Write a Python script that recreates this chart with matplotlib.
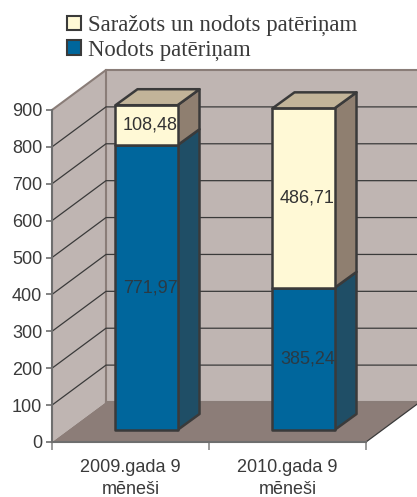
import matplotlib
matplotlib.use('Agg')
import matplotlib.pyplot as plt
from matplotlib.patches import Polygon, Patch

categories = ['2009.gada 9\nmēneši', '2010.gada 9\nmēneši']
nodots = [771.97, 385.24]
sarazots = [108.48, 486.71]
nodots_labels = ['771,97', '385,24']
sarazots_labels = ['108,48', '486,71']
legend_labels = ['Saražots un nodots patēriņam', 'Nodots patēriņam']
yticks = [0, 100, 200, 300, 400, 500, 600, 700, 800, 900]

W, H = 417, 497
LINE = '#3a3a3a'
WALL = '#bfb5b2'
FLOOR = '#8c7d78'
EDGE = '#8a7d78'

fig = plt.figure(figsize=(W / 100, H / 100), dpi=100)
ax = fig.add_axes([52 / W, (H - 442) / H, 314 / W, 332 / H])
ax.set_xlim(0, 2)
ax.set_ylim(0, 900)
ax.patch.set_visible(False)

# depth of the fake 3d box, in data units
DX = 54 / 157
DY = 40 / 332 * 900
# depth of the bars and where they stand on the floor
BX = 22 / 157
BY = 16 / 332 * 900
SX = 16 / 157
SY = 12 / 332 * 900
width = 0.395
RIGHT = 2 + DX


def poly(pts, fc, ec='none', lw=0, z=1):
    ax.add_patch(Polygon(pts, closed=True, fc=fc, ec=ec, lw=lw, zorder=z,
                         clip_on=False, joinstyle='round'))


# walls and floor
poly([(DX, DY), (RIGHT, DY), (RIGHT, 900 + DY), (DX, 900 + DY)], WALL)
poly([(0, 0), (DX, DY), (DX, 900 + DY), (0, 900)], WALL)
poly([(0, 0), (2, 0), (2 + DX, DY), (DX, DY)], FLOOR)
ax.plot([DX, DX], [DY, 900 + DY], color=EDGE, lw=1.5, clip_on=False, zorder=2)
ax.plot([0, DX, RIGHT], [900, 900 + DY, 900 + DY], color=EDGE, lw=1.5, clip_on=False, zorder=2)
ax.plot([DX, RIGHT], [DY, DY], color=EDGE, lw=1.5, clip_on=False, zorder=2)

# gridlines on the walls
for v in yticks[1:-1]:
    ax.plot([0, DX, RIGHT], [v, v + DY, v + DY], color=LINE, lw=0.9, clip_on=False, zorder=2)
ax.plot([2, 2 + DX], [0, DY], color=LINE, lw=0.9, clip_on=False, zorder=2)


def bar3d(x0, y0, y1, front, side, top=None):
    x = x0 + SX
    a = y0 + SY
    b = y1 + SY
    poly([(x + width, a), (x + width + BX, a + BY), (x + width + BX, b + BY), (x + width, b)],
         side, LINE, 1.8, 3)
    poly([(x, a), (x + width, a), (x + width, b), (x, b)], front, LINE, 1.8, 4)
    if top:
        poly([(x, b), (x + width, b), (x + width + BX, b + BY), (x + BX, b + BY)],
             top, LINE, 1.8, 4)


for i in range(2):
    x0 = i + 0.5 - width / 2
    bar3d(x0, 0, nodots[i], '#00669c', '#1f4e66')
    bar3d(x0, nodots[i], nodots[i] + sarazots[i], '#fff9d6', '#8f7f70', '#c2b499')
    tx = x0 + SX + width / 2 + 4 / 157
    ax.text(tx, nodots[i] / 2 + SY, nodots_labels[i], ha='center', va='center',
            fontsize=13, family='Liberation Sans', color='#2b3a44', zorder=6)
    ax.text(tx, nodots[i] + sarazots[i] / 2 + SY, sarazots_labels[i], ha='center', va='center',
            fontsize=13, family='Liberation Sans', color='#333333', zorder=6)

for s in ['top', 'right']:
    ax.spines[s].set_visible(False)
for s in ['left', 'bottom']:
    ax.spines[s].set_color('#6e6e6e')
    ax.spines[s].set_linewidth(1.5)
    ax.spines[s].set_zorder(2.5)

ax.set_yticks(yticks)
ax.set_xticks([0, 1, 2])
ax.set_xticklabels([])
ax.set_xticks([0.5, 1.5], minor=True)
ax.set_xticklabels(categories, minor=True, linespacing=1.42)
ax.tick_params(axis='x', which='minor', length=0, pad=12)
ax.tick_params(axis='x', which='major', length=6, width=1.2, color='#8a8a8a')
ax.tick_params(axis='y', length=4, width=1.2, color='#6e6e6e', pad=3)
for t in ax.get_yticklabels() + ax.get_xticklabels(minor=True):
    t.set_family('Liberation Sans')
    t.set_fontsize(13)
    t.set_color('#3a3a3a')

handles = [Patch(fc='#fff9d6', ec=LINE, lw=1.5), Patch(fc='#00669c', ec=LINE, lw=1.5)]
fig.legend(handles, legend_labels, loc='upper left', bbox_to_anchor=(67 / W, 1 - 15 / H),
           frameon=False, prop={'family': 'Liberation Serif', 'size': 16.4},
           labelcolor='#3a3a3a', handlelength=0.6, handleheight=0.6,
           handletextpad=0.3, labelspacing=0.14, borderpad=0, borderaxespad=0)

fig.savefig('out.png', dpi=100)
